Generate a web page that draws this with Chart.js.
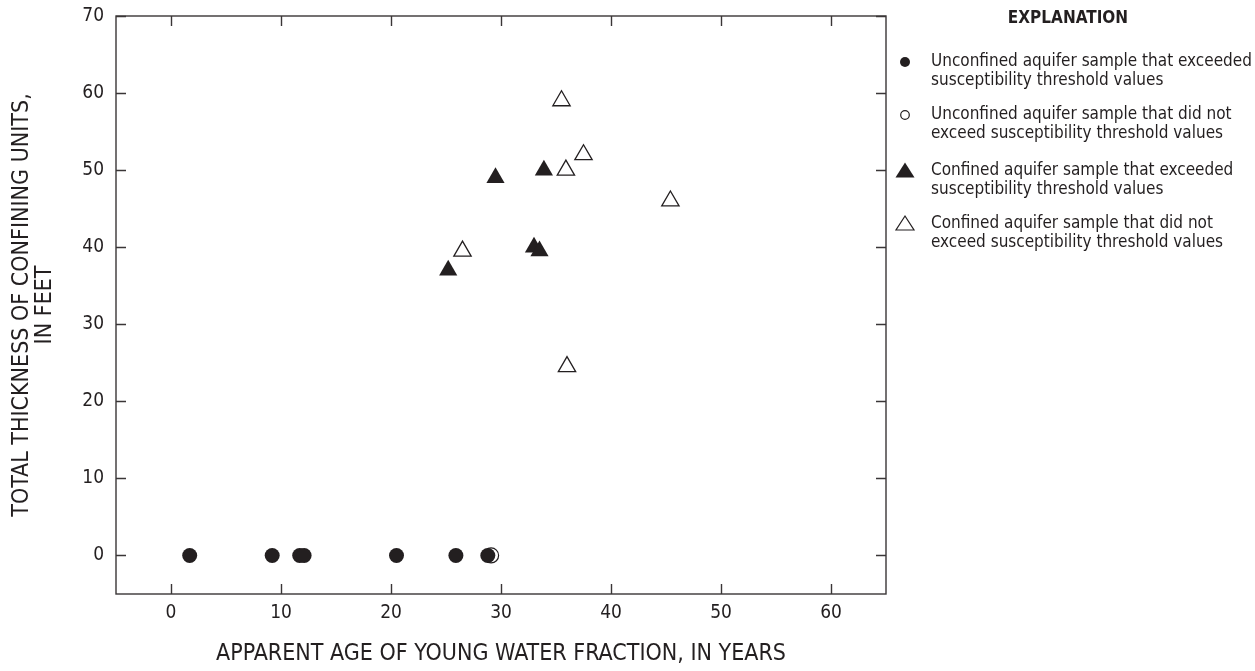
<!DOCTYPE html>
<html>
<head>
<meta charset="utf-8">
<title>Confining units vs apparent age</title>
<script src="https://cdn.jsdelivr.net/npm/chart.js@4.4.0/dist/chart.umd.min.js"></script>
<style>
    html, body { margin: 0; padding: 0; background: #fff; }
    #wrap { position: relative; width: 1255px; height: 671px; }
    #chart { position: absolute; left: 0; top: 0; }
    .lg { position: absolute; font-family: "Liberation Sans Narrow", "Arial Narrow", "DejaVu Sans Condensed", sans-serif; color: #231f20; }
    .lg-title { left: 998px; top: 7px; width: 140px; text-align: center; font-weight: bold; font-size: 17px; }
    .lg-item { left: 931px; font-size: 17px; line-height: 19px; }
    .lg-sym { position: absolute; }
</style>
</head>
<body>
<div id="wrap">
    <canvas id="chart" width="1255" height="671"></canvas>
    <div class="lg lg-title">EXPLANATION</div>
</div>
<script>
'use strict';

var xTickValues = [0, 10, 20, 30, 40, 50, 60];
var yTickValues = [0, 10, 20, 30, 40, 50, 60, 70];

// apparent age (years) and total confining unit thickness (feet)
var unconfinedExceededAge = [1.7, 9.2, 11.7, 12.1, 20.5, 25.9, 28.8];
var unconfinedExceededThickness = [0, 0, 0, 0, 0, 0, 0];
var unconfinedNotExceededAge = [29.1];
var unconfinedNotExceededThickness = [0];
var confinedExceededAge = [25.2, 29.5, 33.0, 33.5, 33.9];
var confinedExceededThickness = [37, 49, 40, 39.5, 50];
var confinedNotExceededAge = [26.5, 35.5, 35.9, 36.0, 37.5, 45.4];
var confinedNotExceededThickness = [39.5, 59, 50, 24.5, 52, 46];

var legendLabels = [
    ['Unconfined aquifer sample that exceeded', 'susceptibility threshold values'],
    ['Unconfined aquifer sample that did not', 'exceed susceptibility threshold values'],
    ['Confined aquifer sample that exceeded', 'susceptibility threshold values'],
    ['Confined aquifer sample that did not', 'exceed susceptibility threshold values']
];

var INK = '#231f20';
var FONT = '"Liberation Sans Narrow", "Arial Narrow", "DejaVu Sans Condensed", sans-serif';

function toPoints(xs, ys) {
    var pts = [];
    for (var i = 0; i < xs.length; i++) {
        pts.push({ x: xs[i], y: ys[i] });
    }
    return pts;
}

/**
 * Legend rows: small symbol on the left, two lines of text.
 */
function buildLegend() {
    var wrap = document.getElementById('wrap');
    var tops = [51, 104, 160, 213];
    var syms = [
        '<svg width="14" height="14"><circle cx="7" cy="7" r="5" fill="' + INK + '"/></svg>',
        '<svg width="14" height="14"><circle cx="7" cy="7" r="4.3" fill="#fff" stroke="' + INK + '" stroke-width="1.2"/></svg>',
        '<svg width="22" height="18"><polygon points="11,1.5 20.5,16.5 1.5,16.5" fill="' + INK + '"/></svg>',
        '<svg width="22" height="18"><polygon points="11,2 20,16 2,16" fill="#fff" stroke="' + INK + '" stroke-width="1.2"/></svg>'
    ];
    var symLeft = [898, 898, 894, 894];
    var symTop = [3, 3, 1, 1];
    for (var i = 0; i < legendLabels.length; i++) {
        var item = document.createElement('div');
        item.className = 'lg lg-item';
        item.style.top = tops[i] + 'px';
        item.innerHTML = legendLabels[i].join('<br>');
        wrap.appendChild(item);

        var sym = document.createElement('div');
        sym.className = 'lg lg-sym';
        sym.style.left = symLeft[i] + 'px';
        sym.style.top = (tops[i] + symTop[i]) + 'px';
        sym.innerHTML = syms[i];
        wrap.appendChild(sym);
    }
}

// frame round the plot with short inward ticks on all four sides
var frameTicks = {
    id: 'frameTicks',
    afterDatasetsDraw: function(chart) {
        var ctx = chart.ctx;
        var a = chart.chartArea;
        var xs = chart.scales.x;
        var ys = chart.scales.y;
        var len = 10;
        ctx.save();
        ctx.strokeStyle = '#3a3637';
        ctx.lineWidth = 1.4;
        ctx.strokeRect(a.left, a.top, a.right - a.left, a.bottom - a.top);
        ctx.beginPath();
        xTickValues.forEach(function(v) {
            var px = Math.round(xs.getPixelForValue(v)) + 0.5;
            ctx.moveTo(px, a.bottom);
            ctx.lineTo(px, a.bottom - len);
            ctx.moveTo(px, a.top);
            ctx.lineTo(px, a.top + len);
        });
        yTickValues.forEach(function(v) {
            var py = Math.round(ys.getPixelForValue(v)) + 0.5;
            ctx.moveTo(a.left, py);
            ctx.lineTo(a.left + len, py);
            ctx.moveTo(a.right, py);
            ctx.lineTo(a.right - len, py);
        });
        ctx.stroke();
        ctx.restore();
    }
};

var ctx = document.getElementById('chart').getContext('2d');
var chart = new Chart(ctx, {
    type: 'scatter',
    data: {
        datasets: [
            {
                label: legendLabels[0].join(' '),
                data: toPoints(unconfinedExceededAge, unconfinedExceededThickness),
                pointStyle: 'circle',
                pointRadius: 7.5,
                backgroundColor: INK,
                borderColor: INK,
                borderWidth: 0
            },
            {
                label: legendLabels[1].join(' '),
                data: toPoints(unconfinedNotExceededAge, unconfinedNotExceededThickness),
                pointStyle: 'circle',
                pointRadius: 7.5,
                backgroundColor: '#fff',
                borderColor: INK,
                borderWidth: 1.2
            },
            {
                label: legendLabels[2].join(' '),
                data: toPoints(confinedExceededAge, confinedExceededThickness),
                pointStyle: 'triangle',
                pointRadius: 10.5,
                backgroundColor: INK,
                borderColor: INK,
                borderWidth: 0
            },
            {
                label: legendLabels[3].join(' '),
                data: toPoints(confinedNotExceededAge, confinedNotExceededThickness),
                pointStyle: 'triangle',
                pointRadius: 10,
                backgroundColor: '#fff',
                borderColor: INK,
                borderWidth: 1.3
            }
        ]
    },
    options: {
        responsive: false,
        animation: false,
        events: [],
        layout: {
            padding: { left: 0, right: 369, top: 16, bottom: 0 }
        },
        plugins: {
            legend: { display: false },
            tooltip: { enabled: false }
        },
        scales: {
            x: {
                type: 'linear',
                min: -5,
                max: 65,
                afterBuildTicks: function(scale) {
                    scale.ticks = xTickValues.map(function(v) { return { value: v }; });
                },
                afterFit: function(scale) {
                    scale.height = 77;
                    scale.paddingLeft = 0;
                    scale.paddingRight = 0;
                },
                grid: { display: false, drawTicks: false },
                border: { display: false },
                ticks: {
                    color: INK,
                    padding: 8,
                    font: { family: FONT, size: 19 }
                },
                title: {
                    display: true,
                    text: 'APPARENT AGE OF YOUNG WATER FRACTION, IN YEARS',
                    color: INK,
                    padding: { top: 0, bottom: 3 },
                    font: { family: FONT, size: 23, lineHeight: 1.2 }
                }
            },
            y: {
                type: 'linear',
                min: -5,
                max: 70,
                afterBuildTicks: function(scale) {
                    scale.ticks = yTickValues.map(function(v) { return { value: v }; });
                },
                afterFit: function(scale) {
                    scale.width = 116;
                    scale.paddingTop = 0;
                    scale.paddingBottom = 0;
                },
                grid: { display: false, drawTicks: false },
                border: { display: false },
                ticks: {
                    color: INK,
                    padding: 12,
                    font: { family: FONT, size: 19 }
                },
                title: {
                    display: true,
                    text: ['TOTAL THICKNESS OF CONFINING UNITS,', 'IN FEET'],
                    color: INK,
                    padding: { top: 11, bottom: 0 },
                    font: { family: FONT, size: 23, lineHeight: 1.0 }
                }
            }
        }
    },
    plugins: [frameTicks]
});

buildLegend();
</script>
</body>
</html>
